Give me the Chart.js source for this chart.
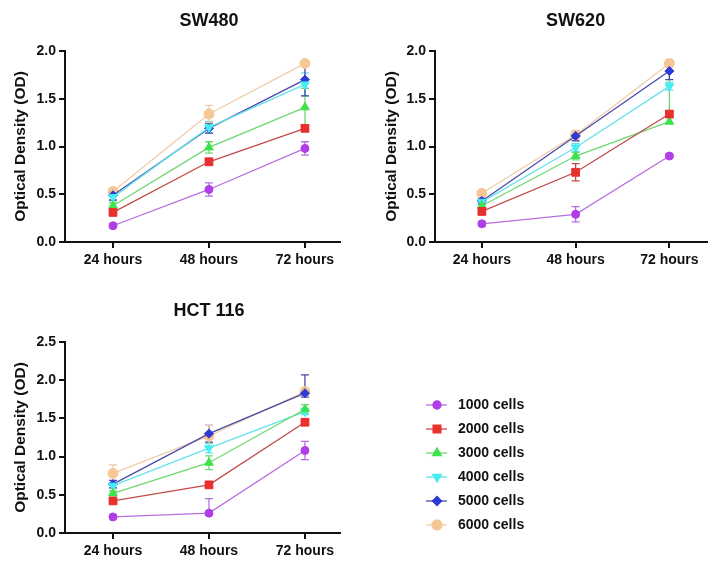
<!DOCTYPE html>
<html>
<head>
<meta charset="utf-8">
<script src="https://cdn.jsdelivr.net/npm/chart.js@4.4.1/dist/chart.umd.min.js"></script>
<style>
  body { margin: 0; background: #fff; }
  #wrap { position: relative; width: 713px; height: 561px; }
  canvas { position: absolute; }
</style>
</head>
<body>
<div id="wrap">
  <canvas id="sw480" width="356" height="280" style="left:0;top:0"></canvas>
  <canvas id="sw620" width="357" height="280" style="left:356px;top:0"></canvas>
  <canvas id="hct116" width="713" height="281" style="left:0;top:280px"></canvas>
</div>
<script>
const hours = ['24 hours', '48 hours', '72 hours'];
const cellLabels = ['1000 cells', '2000 cells', '3000 cells', '4000 cells', '5000 cells', '6000 cells'];

// one row per cell count, one column per time point
const sw480Values = [
    [0.17, 0.55, 0.98],
    [0.31, 0.84, 1.19],
    [0.38, 0.99, 1.41],
    [0.47, 1.20, 1.65],
    [0.49, 1.19, 1.70],
    [0.53, 1.34, 1.87]
];
// a plain number is +/-, a pair is [down, up]
const sw480Errors = [
    [0.02, 0.07, 0.07],
    [0.03, 0.03, 0.03],
    [0.03, 0.06, 0.20],
    [0.04, 0.06, 0.12],
    [0.05, 0.05, 0.17],
    [0.02, 0.09, 0.03]
];

const sw620Values = [
    [0.19, 0.29, 0.90],
    [0.32, 0.73, 1.34],
    [0.38, 0.90, 1.26],
    [0.42, 0.99, 1.63],
    [0.43, 1.11, 1.79],
    [0.51, 1.12, 1.87]
];
const sw620Errors = [
    [0.02, 0.08, 0.02],
    [0.03, 0.09, 0.03],
    [0.02, 0.04, [0.02, 0.53]],
    [0.02, 0.04, 0.04],
    [0.03, 0.05, 0.09],
    [0.03, 0.04, 0.04]
];

const hctValues = [
    [0.21, 0.26, 1.08],
    [0.42, 0.63, 1.45],
    [0.52, 0.92, 1.62],
    [0.62, 1.11, 1.59],
    [0.64, 1.30, 1.83],
    [0.78, 1.27, 1.85]
];
const hctErrors = [
    [0.02, [0.03, 0.19], 0.12],
    [0.03, 0.03, 0.03],
    [0.03, 0.09, 0.06],
    [0.03, 0.06, 0.04],
    [0.05, 0.11, [0.05, 0.24]],
    [[0.03, 0.11], 0.14, 0.05]
];

const markerColors = ['#b03de6', '#e8302f', '#3ee24c', '#44eef2', '#2c3ad6', '#f6c697'];
const lineColors = ['#b86ee0', '#c24a4a', '#6ed870', '#64e2ec', '#4a4aa8', '#f0cca8'];
const pointStyles = ['circle', 'rect', 'triangle', 'triangle', 'rectRot', 'circle'];
const pointRotations = [0, 0, 0, 180, 0, 0];
const pointRadii = [4, 5.5, 5, 5, 4.5, 5];

const FONT = '"Liberation Sans", Arial, sans-serif';

const errorBars = {
    id: 'errorBars',
    beforeDatasetsDraw(chart, args, opts) {
        const ctx = chart.ctx;
        const xs = chart.scales.x, ys = chart.scales.y;
        ctx.save();
        chart.data.datasets.forEach((ds, di) => {
            ds.data.forEach((p, i) => {
                const e = opts.errors[di][i];
                const lo = Array.isArray(e) ? e[0] : e;
                const hi = Array.isArray(e) ? e[1] : e;
                const x = xs.getPixelForValue(p.x);
                const yt = ys.getPixelForValue(p.y + hi);
                const yb = ys.getPixelForValue(p.y - lo);
                ctx.strokeStyle = ds.borderColor;
                ctx.lineWidth = 1.3;
                ctx.beginPath();
                ctx.moveTo(x, yt); ctx.lineTo(x, yb);
                ctx.moveTo(x - 4, yt); ctx.lineTo(x + 4, yt);
                ctx.moveTo(x - 4, yb); ctx.lineTo(x + 4, yb);
                ctx.stroke();
            });
        });
        ctx.restore();
    }
};

const panelTitle = {
    id: 'panelTitle',
    afterDraw(chart, args, opts) {
        const ctx = chart.ctx;
        ctx.save();
        ctx.font = 'bold 18px ' + FONT;
        ctx.fillStyle = '#111';
        ctx.textAlign = 'center';
        ctx.textBaseline = 'middle';
        ctx.fillText(opts.text, chart.scales.x.getPixelForValue(2), opts.y);
        ctx.restore();
    }
};

const sideLegend = {
    id: 'sideLegend',
    afterDraw(chart, args, opts) {
        if (!opts.show) return;
        const ctx = chart.ctx;
        ctx.save();
        chart.data.datasets.forEach((ds, i) => {
            const y = opts.top + i * 24;
            ctx.strokeStyle = ds.borderColor;
            ctx.lineWidth = 1.3;
            ctx.beginPath();
            ctx.moveTo(opts.left, y); ctx.lineTo(opts.left + 21, y);
            ctx.stroke();
            ctx.fillStyle = ds.pointBackgroundColor;
            ctx.strokeStyle = ds.pointBorderColor;
            Chart.helpers.drawPoint(ctx, {
                pointStyle: ds.pointStyle, rotation: ds.pointRotation,
                radius: ds.pointRadius, borderWidth: 1
            }, opts.left + 11, y);
            ctx.font = 'bold 14px ' + FONT;
            ctx.fillStyle = '#111';
            ctx.textAlign = 'left';
            ctx.textBaseline = 'middle';
            ctx.fillText(ds.label, opts.left + 32, y);
        });
        ctx.restore();
    }
};

function makeChart(id, title, values, errors, cfg) {
    const datasets = values.map((row, i) => ({
        label: cellLabels[i],
        data: row.map((v, j) => ({ x: j + 1, y: v })),
        borderColor: lineColors[i],
        borderWidth: 1.3,
        pointStyle: pointStyles[i],
        pointRotation: pointRotations[i],
        pointRadius: pointRadii[i],
        pointBackgroundColor: markerColors[i],
        pointBorderColor: markerColors[i],
        pointBorderWidth: 1
    }));
    new Chart(document.getElementById(id), {
        type: 'line',
        data: { datasets },
        plugins: [errorBars, panelTitle, sideLegend],
        options: {
            responsive: false,
            animation: false,
            layout: { padding: { top: cfg.top, left: cfg.left, right: cfg.right, bottom: cfg.bottom } },
            plugins: {
                legend: { display: false },
                tooltip: { enabled: false },
                errorBars: { errors },
                panelTitle: { text: title, y: cfg.titleY },
                sideLegend: { show: !!cfg.legend, left: 426, top: 125 }
            },
            scales: {
                x: {
                    type: 'linear',
                    min: 0.5,
                    max: cfg.xMax,
                    afterBuildTicks: s => { s.ticks = [{ value: 1 }, { value: 2 }, { value: 3 }]; },
                    afterFit: s => { s.height = 28; },
                    border: { color: '#111', width: 2 },
                    grid: { drawOnChartArea: false, color: '#111', lineWidth: 2, tickLength: 6 },
                    ticks: {
                        callback: v => hours[v - 1],
                        color: '#111',
                        font: { family: FONT, size: 14, weight: 'bold' },
                        padding: 4,
                        maxRotation: 0
                    }
                },
                y: {
                    min: 0,
                    max: cfg.yMax,
                    afterFit: s => { s.width = cfg.yWidth; },
                    border: { color: '#111', width: 2 },
                    grid: { drawOnChartArea: false, color: '#111', lineWidth: 2, tickLength: 6 },
                    ticks: {
                        stepSize: 0.5,
                        callback: v => v.toFixed(1),
                        color: '#111',
                        font: { family: FONT, size: 14, weight: 'bold' },
                        padding: 3
                    },
                    title: {
                        display: true,
                        text: 'Optical Density (OD)',
                        color: '#111',
                        font: { family: FONT, size: 15.5, weight: 'bold' },
                        padding: { top: 11, bottom: 0 }
                    }
                }
            }
        }
    });
}

makeChart('sw480', 'SW480', sw480Values, sw480Errors,
    { top: 51, left: 0, right: 16, bottom: 10, yWidth: 65, xMax: 3.365, yMax: 2.0, titleY: 21 });
makeChart('sw620', 'SW620', sw620Values, sw620Errors,
    { top: 51, left: 15, right: 0, bottom: 10, yWidth: 64, xMax: 3.396, yMax: 2.0, titleY: 21 });
makeChart('hct116', 'HCT 116', hctValues, hctErrors,
    { top: 62, left: 0, right: 373, bottom: 0, yWidth: 65, xMax: 3.365, yMax: 2.5, titleY: 31, legend: true });
</script>
</body>
</html>
